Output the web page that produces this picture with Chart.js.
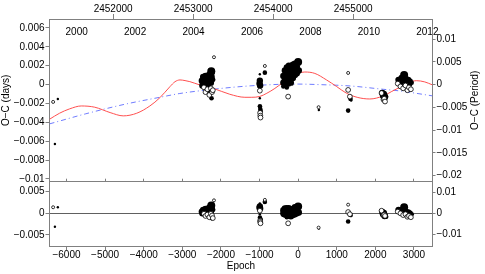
<!DOCTYPE html>
<html>
<head>
<meta charset="utf-8">
<script src="https://cdn.jsdelivr.net/npm/chart.js@4"></script>
<style>
  html, body { margin: 0; padding: 0; background: #fff; }
  #wrap { position: relative; width: 485px; height: 274px; }
  #wrap canvas { position: absolute; left: 0; top: 0; }
</style>
</head>
<body>
<div id="wrap">
  <canvas id="oc-top" width="485" height="274"></canvas>
  <canvas id="oc-res" width="485" height="274"></canvas>
</div>
<script>
// ephemeris used for the secondary axes
const T0 = 2454312.5;      // JD of epoch 0
const PERIOD = 0.4825;     // days
const EPOCH_MIN = -6440, EPOCH_MAX = 3480;
const OC_MIN = -0.0103, OC_MAX = 0.00695;
const RES_MIN = -0.00754, RES_MAX = 0.0073;

// tick labels
const epochTicks = [-6000, -5000, -4000, -3000, -2000, -1000, 0, 1000, 2000, 3000];
const jdTicks = [2452000, 2453000, 2454000, 2455000];
const yearTicks = [2000, 2002, 2004, 2006, 2008, 2010, 2012];

// filled symbols (primary minima)
const priEpoch = [
  -6224, -6300,
  -2494, -2480, -2460, -2450, -2430, -2420, -2400, -2390, -2370, -2360, -2340, -2320, -2310, -2300, -2290, -2280, -2260, -2250, -2243, -2240, -2220, -2200,
  -1000, -995, -992, -990, -985, -992, -862, -992, -990, -980, -970,
  -383, -383, -383, -344, -344, -344, -293, -293, -293, -293, -241, -241, -241, -241, -189, -189, -189, -137, -137, -137, -85, -85, -85, -34, -34, 0, 18,
  536,
  1357, 1375, 1295,
  2180, 2200, 2220, 2240, 2260, 2280,
  2600, 2640, 2680, 2700, 2745, 2760, 2790, 2820, 2850, 2880, 2910, 2940
];
const priOC = [
  -0.00153, -0.0063,
  0.0004, -0.0001, 0.0008, 0.0001, 0.0005, -0.0003, 0.0009, 0.0002, -0.0004, 0.0006, 0.0000, 0.0010, -0.0006, -0.0009, 0.0004, 0.0011, 0.0002, 0.0014, -0.00145, 0.0008, 0.0012, 0.0005,
  0.0001, 0.0002, 0.0004, -0.0002, -0.0001, 0.0011, 0.00126, -0.00145, -0.0023, -0.0026, -0.0028,
  0.0009, 0.0002, -0.0002, 0.0015, 0.0005, -0.0001, 0.0018, 0.0010, 0.0003, -0.0003, 0.0020, 0.0013, 0.0006, 0.0000, 0.0016, 0.0009, 0.0002, 0.0021, 0.0014, 0.0007, 0.0022, 0.0017, 0.0010, 0.0019, 0.0012, 0.0024, 0.0015,
  -0.0027,
  -0.00153, -0.0017, -0.00276,
  -0.0009, -0.0012, -0.0010, -0.0014, -0.0011, -0.0013,
  0.0005, 0.0003, 0.0007, 0.0000, 0.00102, 0.0004, 0.0006, 0.0002, 0.0005, 0.0001, 0.0004, 0.0002
];
const priRes = [
  0.0014, -0.0031,
  0.0004, 0.0000, 0.0008, 0.0002, 0.0006, -0.0002, 0.0010, 0.0004, -0.0002, 0.0008, 0.0002, 0.0012, -0.0004, -0.0007, 0.0007, 0.0014, 0.0005, 0.0018, -0.0011, 0.0011, 0.0015, 0.0008,
  0.0013, 0.0014, 0.0016, 0.0009, 0.0011, 0.0023, 0.0026, -0.0002, -0.0010, -0.0013, -0.0015,
  0.0007, 0.0000, -0.0004, 0.0011, 0.0001, -0.0005, 0.0012, 0.0004, -0.0003, -0.0009, 0.0012, 0.0005, -0.0002, -0.0008, 0.0007, 0.0000, -0.0007, 0.0010, 0.0003, -0.0004, 0.0014, 0.0005, -0.0002, 0.0007, 0.0000, 0.0016, 0.0002,
  -0.0035,
  -0.0004, -0.0006, -0.0019,
  0.0003, -0.0002, 0.0001, -0.0006, -0.0003, -0.0008,
  0.0008, 0.0005, 0.0008, 0.0001, 0.0014, 0.0003, 0.0004, 0.0000, 0.0002, -0.0002, 0.0001, -0.0002
];
const priWeight = [
  1, 1,
  3, 3, 3, 2, 3, 2, 3, 3, 2, 3, 3, 3, 2, 2, 3, 3, 3, 4, 2, 3, 2, 2,
  3, 2, 3, 2, 3, 1, 2, 1, 2, 2, 2,
  3, 3, 2, 3, 3, 2, 3, 3, 3, 2, 3, 3, 3, 2, 3, 3, 3, 3, 3, 3, 3, 3, 3, 3, 3, 4, 3,
  1,
  2, 1, 2,
  3, 3, 3, 3, 2, 2,
  3, 3, 3, 2, 4, 3, 3, 3, 3, 3, 2, 2
];

// open symbols (secondary minima)
const secEpoch = [
  -6346,
  -2180, -2440, -2400, -2350, -2300, -2260, -2230, -2210,
  -862, -992, -985, -980, -975,
  -259,
  530,
  1295, 1295, 1340,
  2160, 2210, 2230, 2250,
  2580, 2650, 2720, 2780, 2830, 2870, 2920
];
const secOC = [
  -0.00184,
  0.0029, -0.0003, -0.0008, -0.0005, -0.0011, -0.0004, -0.0008, -0.0006,
  0.00197, -0.00065, -0.0030, -0.0033, -0.0035,
  -0.00128,
  -0.0024,
  0.00123, -0.00057, -0.00128,
  -0.0009, -0.0016, -0.0015, -0.0018,
  0.0001, -0.0002, -0.0004, -0.0001, -0.0006, -0.0003, -0.0005
];
const secRes = [
  0.0014,
  0.0030, -0.0001, -0.0006, -0.0003, -0.0009, -0.0001, -0.0005, -0.0011,
  0.0031, 0.0006, -0.0017, -0.0020, -0.0023,
  -0.0023,
  -0.0033,
  0.0020, 0.0003, -0.0002,
  0.0006, -0.0004, -0.0003, -0.0006,
  0.0004, 0.0000, -0.0004, -0.0002, -0.0008, -0.0006, -0.0009
];
const secWeight = [
  1,
  1, 2, 2, 2, 2, 2, 2, 2,
  1, 2, 2, 2, 2,
  2,
  1,
  1, 2, 2,
  2, 2, 2, 2,
  2, 2, 2, 2, 2, 2, 2
];

// LTTE fit (red) and quadratic ephemeris (blue dash-dot)
const fitEpoch = [-6440, -6180, -5920, -5616, -5270, -4870, -4530, -4180, -3840, -3580, -3320, -3190, -3060, -2930, -2805, -2547, -2210, -1770, -1380, -1200, -992, -810, -603, -396, -215, -8, 174, 433, 735, 1000, 1253, 1546, 1856, 2200, 2425, 2632, 2840, 3064, 3280, 3480];
const fitOC = [-0.00368, -0.00304, -0.00258, -0.00227, -0.0024, -0.00297, -0.00332, -0.00304, -0.00227, -0.00139, -0.00022, 0.0003, 0.00049, 0.00042, 0.00031, -0.00004, -0.00039, -0.00103, -0.00135, -0.00135, -0.00126, -0.00092, -0.00041, 0.00022, 0.00084, 0.0012, 0.00133, 0.00118, 0.00049, -0.00022, -0.00092, -0.00137, -0.00153, -0.00121, -0.00073, -0.00029, 0.00017, 0.00041, 0.00028, -0.00004];
const quadEpoch = [-6440, -5500, -4500, -3580, -3065, -2200, -1350, -500, 0, 500, 1350, 2200, 2640, 3480];
const quadOC = [-0.00417, -0.0031, -0.0021, -0.00135, -0.00095, -0.0005, -0.00017, 0.00002, 0.00005, 0.0, -0.00015, -0.0005, -0.00068, -0.0012];

const FRAME = '#808080';
const RED = '#ff5050';
const BLUE = '#6f7cff';
const PLOT_LEFT = 49.5, PLOT_RIGHT = 432.5;
const TOP_Y = 19, SPLIT_Y = 181.7, BOTTOM_Y = 246;

Chart.defaults.font.family = '"Liberation Sans", Arial, Helvetica, sans-serif';
Chart.defaults.font.size = 10;
Chart.defaults.font.lineHeight = 1;
Chart.defaults.color = '#000';

const fmt = v => Math.abs(v) < 1e-12 ? '0' : String(Number(v.toPrecision(6))).replace('-', '\u2212');
const pts = (xs, ys) => xs.map((x, i) => ({ x, y: ys[i] }));
const fixedTicks = list => s => { s.ticks = list.map(value => ({ value })); };
const priRadius = priWeight.map(w => [0, 1.2, 2.3, 3.2, 4][w]);
const secRadius = secWeight.map(w => [0, 1.5, 2.4][w]);

const jdMin = T0 + EPOCH_MIN * PERIOD, jdMax = T0 + EPOCH_MAX * PERIOD;
const toYear = jd => 2000 + (jd - 2451544.5) / 365.25;

const tickGrid = len => ({ drawOnChartArea: false, drawTicks: true, tickLength: len, color: FRAME, tickColor: FRAME });
const frame = { display: true, color: FRAME, width: 1 };

const rightTitle = {
  id: 'rightTitle',
  afterDraw(chart) {
    const { ctx, chartArea } = chart;
    ctx.save();
    ctx.font = '10px "Liberation Sans", Arial, sans-serif';
    ctx.fillStyle = '#000';
    ctx.textAlign = 'center';
    ctx.textBaseline = 'middle';
    ctx.translate(chart.width - 9.5, (chartArea.top + chartArea.bottom) / 2);
    ctx.rotate(-Math.PI / 2);
    ctx.fillText('O\u2212C (Period)', 0, 0);
    ctx.restore();
  }
};

const pointSets = (ys1, ys2) => [
  { type: 'scatter', data: pts(secEpoch, ys2), pointStyle: 'circle', pointRadius: secRadius,
    backgroundColor: '#fff', borderColor: '#000', borderWidth: 0.8, order: 0 },
  { type: 'scatter', data: pts(priEpoch, ys1), pointStyle: 'circle', pointRadius: priRadius,
    backgroundColor: '#000', borderColor: '#000', borderWidth: 0, order: 1 }
];

new Chart(document.getElementById('oc-top'), {
  type: 'scatter',
  data: {
    datasets: [
      ...pointSets(priOC, secOC),
      { type: 'line', data: pts(fitEpoch, fitOC), borderColor: RED, borderWidth: 1, pointRadius: 0,
        cubicInterpolationMode: 'monotone', order: 2 },
      { type: 'line', data: pts(quadEpoch, quadOC), borderColor: BLUE, borderWidth: 1, borderDash: [5, 3, 1, 3],
        pointRadius: 0, cubicInterpolationMode: 'monotone', order: 3 }
    ]
  },
  options: {
    responsive: false, animation: false, events: [],
    layout: { padding: { left: 0, right: 0, top: 0, bottom: 274 - SPLIT_Y } },
    plugins: { legend: { display: false }, tooltip: { enabled: false } },
    scales: {
      x: { type: 'linear', position: 'bottom', min: EPOCH_MIN, max: EPOCH_MAX, display: false },
      jd: {
        type: 'linear', axis: 'x', position: 'top', weight: 1, min: jdMin, max: jdMax,
        afterBuildTicks: fixedTicks(jdTicks),
        ticks: { padding: 0, maxRotation: 0, autoSkip: false, callback: v => String(v) },
        grid: tickGrid(5), border: frame,
        afterFit: s => { s.height = TOP_Y; }
      },
      yr: {
        type: 'linear', axis: 'x', position: 'top', weight: 0, min: toYear(jdMin), max: toYear(jdMax),
        afterBuildTicks: fixedTicks(yearTicks),
        ticks: { mirror: true, padding: 8, maxRotation: 0, autoSkip: false, callback: v => String(v) },
        grid: { display: false }, border: { display: false },
        afterFit: s => { s.height = 0; }
      },
      y: {
        type: 'linear', position: 'left', min: OC_MIN, max: OC_MAX,
        ticks: { stepSize: 0.002, includeBounds: false, padding: 1, callback: fmt },
        grid: tickGrid(4), border: frame,
        title: { display: true, text: 'O\u2212C (days)', padding: { top: 1.5, bottom: 0 } },
        afterFit: s => { s.width = PLOT_LEFT; }
      },
      yP: {
        type: 'linear', position: 'right', min: OC_MIN / PERIOD, max: OC_MAX / PERIOD,
        ticks: { stepSize: 0.005, includeBounds: false, padding: 1, callback: fmt },
        grid: tickGrid(3), border: frame,
        afterFit: s => { s.width = 485 - PLOT_RIGHT; }
      }
    }
  },
  plugins: [rightTitle]
});

new Chart(document.getElementById('oc-res'), {
  type: 'scatter',
  data: { datasets: pointSets(priRes, secRes) },
  options: {
    responsive: false, animation: false, events: [],
    layout: { padding: 0 },
    plugins: { legend: { display: false }, tooltip: { enabled: false } },
    scales: {
      x: {
        type: 'linear', position: 'bottom', min: EPOCH_MIN, max: EPOCH_MAX,
        afterBuildTicks: fixedTicks(epochTicks),
        ticks: { padding: 0, maxRotation: 0, autoSkip: false, callback: fmt },
        grid: tickGrid(4), border: frame,
        title: { display: true, text: 'Epoch', padding: { top: 0, bottom: 3 } },
        afterFit: s => { s.height = 274 - BOTTOM_Y; }
      },
      xt: {
        type: 'linear', axis: 'x', position: 'top', min: EPOCH_MIN, max: EPOCH_MAX,
        afterBuildTicks: fixedTicks(epochTicks),
        ticks: { display: false },
        grid: tickGrid(3), border: frame,
        afterFit: s => { s.height = SPLIT_Y; }
      },
      y: {
        type: 'linear', position: 'left', min: RES_MIN, max: RES_MAX,
        ticks: { stepSize: 0.005, includeBounds: false, padding: 1, callback: fmt },
        grid: {
          drawOnChartArea: true, drawTicks: true, tickLength: 4, tickColor: FRAME,
          color: c => (c.tick && c.tick.value === 0) ? '#606060' : 'rgba(0,0,0,0)'
        },
        border: frame,
        afterFit: s => { s.width = PLOT_LEFT; }
      },
      yP: {
        type: 'linear', position: 'right', min: RES_MIN / PERIOD, max: RES_MAX / PERIOD,
        ticks: { stepSize: 0.01, includeBounds: false, padding: 1, callback: fmt },
        grid: tickGrid(3), border: frame,
        afterFit: s => { s.width = 485 - PLOT_RIGHT; }
      }
    }
  }
});
</script>
</body>
</html>
